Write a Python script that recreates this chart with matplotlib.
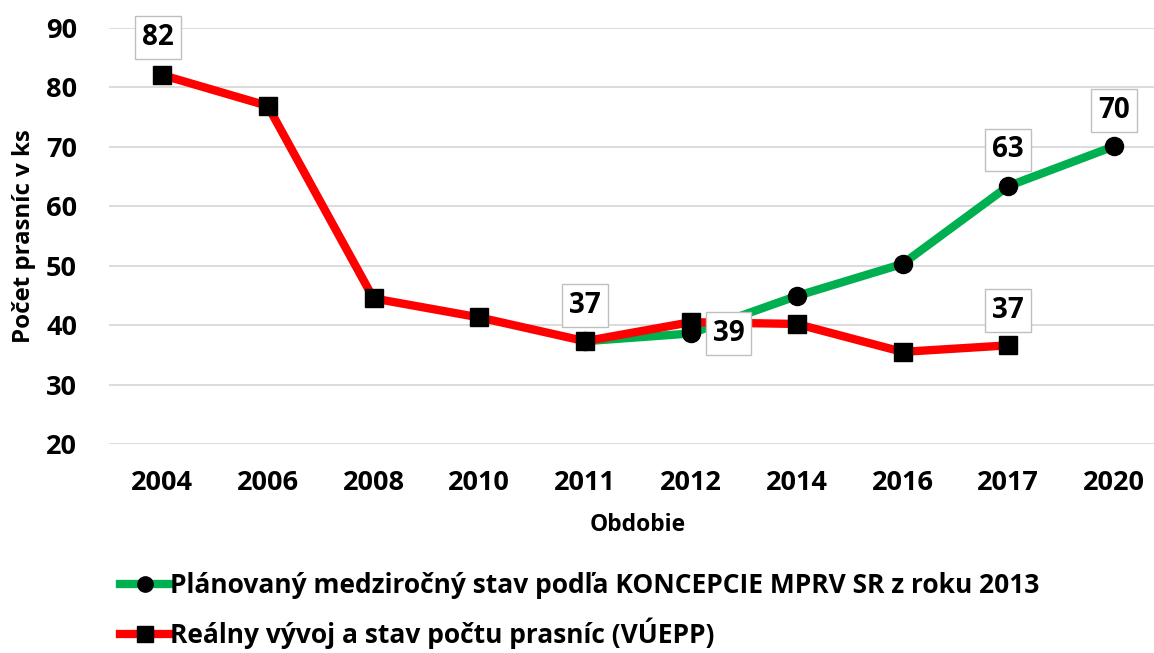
import matplotlib
matplotlib.use("Agg")
import matplotlib.pyplot as plt
from matplotlib.lines import Line2D

plt.rcParams['font.family'] = ['Open Sans', 'DejaVu Sans']

# data
years = ["2004", "2006", "2008", "2010", "2011", "2012", "2014", "2016", "2017", "2020"]
real = [82.1, 76.9, 44.5, 41.3, 37.3, 40.5, 40.2, 35.5, 36.6, None]
planned = [None, None, None, None, 37.3, 38.6, 44.9, 50.3, 63.4, 70.1]

planned_name = "Plánovaný medziročný stav podľa KONCEPCIE MPRV SR z roku 2013"
real_name = "Reálny vývoj a stav počtu prasníc (VÚEPP)"

green = "#00B050"
red = "#FF0000"

W, H = 1154, 653
fig = plt.figure(figsize=(W / 100, H / 100), dpi=100)
ax = fig.add_axes([109 / W, 1 - 444 / H, 1058 / W, 416 / H])

x = list(range(len(years)))
px = [i for i, v in zip(x, planned) if v is not None]
pv = [v for v in planned if v is not None]
rx = [i for i, v in zip(x, real) if v is not None]
rv = [v for v in real if v is not None]

ax.plot(px, pv, color=green, lw=6, marker="o", ms=13, mfc="black", mec="black", zorder=3)
ax.plot(rx, rv, color=red, lw=6, marker="s", ms=13, mfc="black", mec="black", zorder=4)

ax.set_xlim(-0.5, len(years) - 0.5)
ax.set_ylim(20, 90)
ax.set_yticks(range(20, 91, 10))
ax.set_xticks(x)
ax.set_xticklabels(years)
ax.grid(axis="y", color="#d9d9d9", lw=1.3)
ax.set_axisbelow(True)
for s in ax.spines.values():
    s.set_visible(False)
ax.tick_params(length=0, labelsize=19.5)
for lab in ax.get_xticklabels() + ax.get_yticklabels():
    lab.set_fontweight("bold")
ax.tick_params(axis="x", pad=19)
ax.tick_params(axis="y", pad=23)

ax.set_xlabel("Obdobie", fontsize=16.5, fontweight="bold", labelpad=12)
ax.set_ylabel("Počet prasníc v ks", fontsize=17.3, fontweight="bold", labelpad=7)

box = dict(boxstyle="square,pad=0.25", fc="white", ec="#bfbfbf", lw=1)


def label(i, v, dx, dy):
    ax.annotate(f"{round(v)}", (i, v), xytext=(dx, dy), textcoords="offset points",
                ha="center", va="center", fontsize=20, fontweight="bold",
                bbox=box, zorder=6)


label(0, real[0], -3, 27)
label(4, real[4], 0, 26)
label(8, real[8], 0, 25)
label(5, planned[5], 27, 0)
label(8, planned[8], 0, 26)
label(9, planned[9], 0, 26)

handles = [
    Line2D([], [], color=green, lw=6, marker="o", ms=11, mfc="black", mec="black"),
    Line2D([], [], color=red, lw=6, marker="s", ms=11, mfc="black", mec="black"),
]
fig.legend(handles, [planned_name, real_name], loc="upper left",
           bbox_to_anchor=(120 / W, 1 - 572 / H), frameon=False,
           prop=dict(size=19, weight="bold"), handlelength=1.9,
           handletextpad=0.0, labelspacing=0.7, borderaxespad=0, borderpad=0)

fig.savefig("out.png", dpi=100)
